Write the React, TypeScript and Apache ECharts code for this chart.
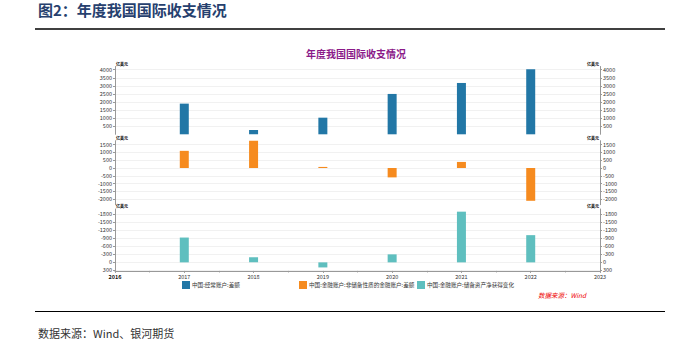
import { useEffect, useRef } from 'react';
import * as echarts from 'echarts';

const years = [2017, 2018, 2019, 2020, 2021, 2022];
const currentAccount = [1900, 260, 1030, 2500, 3180, 4030];
const nonReserveFinancial = [1100, 1740, 70, -600, 390, -2100];
const reserveAssetChange = [-930, -190, 190, -300, -1900, -1020];
const seriesNames = [
  '中国:经常账户:差额',
  '中国:金融账户:非储备性质的金融账户:差额',
  '中国:金融账户:储备资产净获得变化',
];
const colors = ['#2277a6', '#f68b1f', '#5fbfbf'];
const ticksTop = [500, 1000, 1500, 2000, 2500, 3000, 3500, 4000];
const ticksMid = [-2000, -1500, -1000, -500, 0, 500, 1000, 1500];
const ticksBottom = [-1800, -1500, -1200, -900, -600, -300, 0, 300];
const unitLabel = '亿美元';
const headerTitle = '图2：年度我国国际收支情况';
const chartTitle = '年度我国国际收支情况';
const sourceNote = '数据来源：Wind';
const footerText = '数据来源：Wind、银河期货';

const grids = [
  { top: 66.5, height: 67.8, min: 0, max: 4200, ticks: ticksTop, inverse: false },
  { top: 140.7, height: 64, min: -2350, max: 1750, ticks: ticksMid, inverse: false },
  { top: 209, height: 61.9, min: -2000, max: 320, ticks: ticksBottom, inverse: true },
];
const LEFT = 115;
const RIGHT_X = 600;
const FONT = '"Noto Sans CJK SC", "Noto Sans", sans-serif';

export default function App() {
  const ref = useRef<HTMLDivElement>(null);
  useEffect(() => {
    if (!ref.current) return;
    const chart = echarts.init(ref.current, undefined, { renderer: 'svg' });
    const seriesData = [currentAccount, nonReserveFinancial, reserveAssetChange];

    const yAxes: any[] = [];
    grids.forEach((g, i) => {
      ['left', 'right'].forEach((pos) => {
        yAxes.push({
          type: 'value',
          gridIndex: i,
          position: pos,
          min: g.min,
          max: g.max,
          inverse: g.inverse,
          axisLine: { show: true, lineStyle: { color: '#999', width: 1 } },
          axisTick: { show: true, length: 2, customValues: g.ticks, lineStyle: { color: '#999' } },
          axisLabel: {
            customValues: g.ticks,
            fontSize: 5.5,
            color: '#333',
            margin: 3,
            fontFamily: FONT,
            formatter: (v: number) => String(v),
          },
          splitLine: { show: pos === 'left', lineStyle: { color: '#f1f1f1', width: 1 } },
        });
      });
    });

    const xAxes = grids.map((g, i) => ({
      type: 'value',
      gridIndex: i,
      min: 2016,
      max: 2023,
      interval: 1,
      show: i === 2,
      position: 'bottom',
      axisLine: { show: true, onZero: false, lineStyle: { color: '#999' } },
      axisTick: { show: true, length: 2, lineStyle: { color: '#999' } },
      minorTick: { show: true, splitNumber: 2, length: 1.5, lineStyle: { color: '#999' } },
      splitLine: { show: false },
      axisLabel: {
        fontSize: 5.5,
        color: '#333',
        margin: 3,
        fontFamily: FONT,
        formatter: (v: number) => (v === 2016 ? '{b|' + v + '}' : String(v)),
        rich: { b: { fontSize: 5.5, fontWeight: 'bold', color: '#111', fontFamily: FONT } },
      },
    }));

    const series = seriesData.map((arr, i) => ({
      name: seriesNames[i],
      type: 'bar',
      xAxisIndex: i,
      yAxisIndex: i * 2,
      barWidth: 9,
      clip: false,
      itemStyle: { color: colors[i] },
      data: years.map((y, k) => [y, arr[k]]),
    }));

    const legendLefts = [182, 299, 417];
    const legends = seriesNames.map((n, i) => ({
      data: [n],
      left: legendLefts[i],
      top: 281,
      padding: 0,
      itemWidth: 8,
      itemHeight: 8,
      icon: 'rect',
      textStyle: { fontSize: 5.6, color: '#333', fontFamily: FONT, padding: [0, 0, 0, -3] },
    }));

    const unitTexts: any[] = [];
    grids.forEach((g) => {
      unitTexts.push({
        type: 'text',
        left: LEFT + 1,
        top: g.top - 5,
        style: { text: unitLabel, fontSize: 4, fill: '#000', fontFamily: FONT, fontWeight: 'bold' },
      });
      unitTexts.push({
        type: 'text',
        left: RIGHT_X - 13,
        top: g.top - 5,
        style: { text: unitLabel, fontSize: 4, fill: '#000', fontFamily: FONT, fontWeight: 'bold' },
      });
    });

    chart.setOption({
      animation: false,
      backgroundColor: '#fff',
      title: {
        text: chartTitle,
        left: 306,
        top: 48,
        padding: 0,
        textStyle: { fontSize: 10, fontWeight: 'bold', color: '#8b1a89', fontFamily: FONT },
      },
      grid: grids.map((g) => ({ left: LEFT, right: 694 - RIGHT_X, top: g.top, height: g.height })),
      xAxis: xAxes,
      yAxis: yAxes,
      legend: legends,
      series,
      graphic: [
        {
          type: 'text',
          left: 38,
          top: 2,
          style: { text: headerTitle, fontSize: 15, fontWeight: 'bold', fill: '#26406e', fontFamily: FONT },
        },
        { type: 'line', shape: { x1: 35, y1: 29, x2: 665, y2: 29 }, style: { stroke: '#000', lineWidth: 1.6 } },
        { type: 'line', shape: { x1: 35, y1: 311.5, x2: 665, y2: 311.5 }, style: { stroke: '#000', lineWidth: 1 } },
        {
          type: 'text',
          left: 38,
          top: 327,
          style: { text: footerText, fontSize: 11, fill: '#333', fontFamily: FONT },
        },
        {
          type: 'text',
          left: 538,
          top: 292,
          style: { text: sourceNote, fontSize: 6.5, fill: '#e00', fontStyle: 'italic', fontFamily: FONT },
        },
        ...unitTexts,
      ],
    });
    return () => chart.dispose();
  }, []);
  return (
    <div
      ref={ref}
      style={{ position: 'fixed', left: 0, top: 0, width: 694, height: 347, background: '#fff' }}
    />
  );
}
